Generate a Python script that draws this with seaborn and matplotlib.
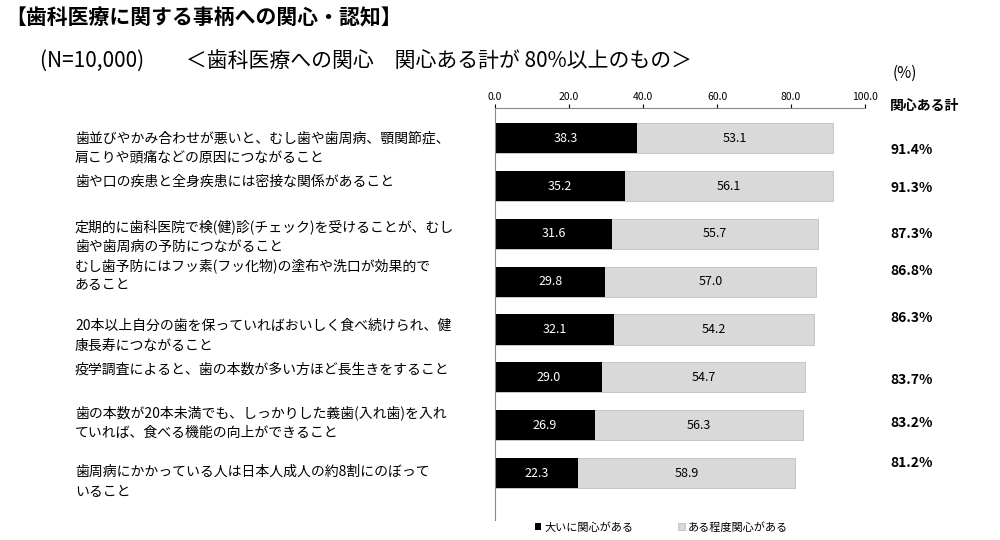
import matplotlib.pyplot as plt
import pandas as pd
import seaborn as sns

plt.rcParams['font.family'] = 'Noto Sans CJK JP'

labels = [
    '歯並びやかみ合わせが悪いと、むし歯や歯周病、顎関節症、\n肩こりや頭痛などの原因につながること',
    '歯や口の疾患と全身疾患には密接な関係があること',
    '定期的に歯科医院で検(健)診(チェック)を受けることが、むし\n歯や歯周病の予防につながること',
    'むし歯予防にはフッ素(フッ化物)の塗布や洗口が効果的で\nあること',
    '20本以上自分の歯を保っていればおいしく食べ続けられ、健\n康長寿につながること',
    '疫学調査によると、歯の本数が多い方ほど長生きをすること',
    '歯の本数が20本未満でも、しっかりした義歯(入れ歯)を入れ\nていれば、食べる機能の向上ができること',
    '歯周病にかかっている人は日本人成人の約8割にのぼって\nいること',
]
very = [38.3, 35.2, 31.6, 29.8, 32.1, 29.0, 26.9, 22.3]
some = [53.1, 56.1, 55.7, 57.0, 54.2, 54.7, 56.3, 58.9]
totals = ['91.4%', '91.3%', '87.3%', '86.8%', '86.3%', '83.7%', '83.2%', '81.2%']

df = pd.DataFrame({'cat': [str(i) for i in range(8)], 'very': very, 'some': some})
df['sum'] = df['very'] + df['some']

fig = plt.figure(figsize=(10, 5.4), dpi=100)
ax = fig.add_axes([0.495, 0.037, 0.37, 0.763])

sns.barplot(data=df, x='sum', y='cat', color='#d9d9d9', edgecolor='#bfbfbf',
            linewidth=0.6, width=0.63, ax=ax, label='ある程度関心がある')
sns.barplot(data=df, x='very', y='cat', color='black', width=0.63, ax=ax,
            label='大いに関心がある')

for i in range(8):
    ax.text(very[i] / 2, i, f'{very[i]:.1f}', color='white', ha='center', va='center', fontsize=9)
    ax.text(very[i] + some[i] / 2, i, f'{some[i]:.1f}', color='black', ha='center', va='center', fontsize=9)

ax.set_xlim(0, 100)
ax.set_ylim(7.98, -0.63)
ax.xaxis.tick_top()
ax.set_xticks([0, 20, 40, 60, 80, 100])
ax.set_xticklabels(['0.0', '20.0', '40.0', '60.0', '80.0', '100.0'], fontsize=7.5)
ax.set_yticks([])
ax.set_xlabel('')
ax.set_ylabel('')
for s in ['right', 'bottom']:
    ax.spines[s].set_visible(False)
ax.spines['top'].set_color('#888888')
ax.spines['left'].set_color('#888888')
ax.tick_params(axis='x', length=3, pad=1, colors='black')

handles, hl = ax.get_legend_handles_labels()
ax.legend(handles[::-1], hl[::-1], loc='upper center', bbox_to_anchor=(0.45, 0.02),
          ncol=2, frameon=False, fontsize=8, handlelength=0.6, handleheight=0.6,
          columnspacing=4, handletextpad=0.3)

label_y = [148, 182, 237, 275, 336, 370, 423, 482]
for y, t in zip(label_y, labels):
    fig.text(0.075, 1 - y / 540, t, fontsize=10, va='center', ha='left', linespacing=1.5)

tot_y = [150, 188, 234, 271, 318, 380, 423, 463]
for y, t in zip(tot_y, totals):
    fig.text(0.912, 1 - y / 540, t, fontsize=10, va='center', ha='center', fontweight='bold')

fig.text(0.005, 1 - 18 / 540, '【歯科医療に関する事柄への関心・認知】', fontsize=15,
         fontweight='bold', va='center')
fig.text(0.04, 1 - 62 / 540, '(N=10,000)　　＜歯科医療への関心　関心ある計が 80%以上のもの＞',
         fontsize=15, va='center')
fig.text(0.905, 1 - 73 / 540, '(%)', fontsize=11, va='center', ha='center')
fig.text(0.89, 1 - 106 / 540, '関心ある計', fontsize=10, fontweight='bold', va='center')

fig.savefig('out.png')
